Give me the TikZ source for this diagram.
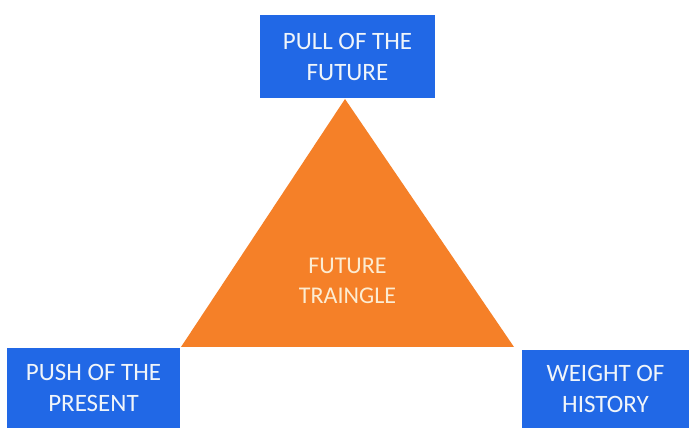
\documentclass[tikz,border=0pt]{standalone}
\usepackage{fontspec}
\setmainfont{Carlito}
\definecolor{boxblue}{RGB}{33,104,230}
\definecolor{triorange}{RGB}{245,128,40}
\definecolor{boxtext}{RGB}{240,245,250}
\definecolor{tritext}{RGB}{252,236,210}
\begin{document}
\begin{tikzpicture}[x=1pt,y=1pt,
  bluebox/.style={fill=boxblue,draw=none,text=boxtext,align=center,inner sep=0pt,
    font=\fontsize{25}{31}\selectfont},
  tritxt/.style={text=tritext,align=center,inner sep=0pt,font=\fontsize{24}{30}\selectfont}]
\useasboundingbox[fill=white] (0,0) rectangle (689,428);
\coordinate (apex) at (345,329);
\coordinate (bl) at (181,81);
\coordinate (br) at (514,81);
\fill[triorange] (apex) -- (br) -- (bl) -- cycle;
\node[bluebox,minimum width=175,minimum height=83] (pull) at (347.5,371.5) {PULL OF THE\\FUTURE};
\node[bluebox,minimum width=173,minimum height=80] (push) at (93.5,40) {PUSH OF THE\\PRESENT};
\node[bluebox,minimum width=167,minimum height=78] (weight) at (605.5,39) {WEIGHT OF\\HISTORY};
\node[tritxt] (ft) at (347.5,147) {FUTURE\\TRAINGLE};
\end{tikzpicture}
\end{document}
